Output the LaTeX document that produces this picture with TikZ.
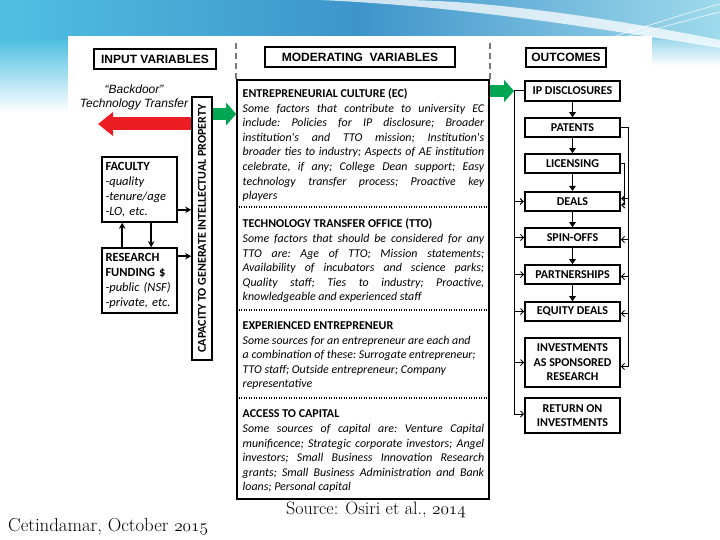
\documentclass[tikz,border=0pt]{standalone}
\usepackage{fontspec}
\usetikzlibrary{arrows.meta,calc}
\newfontfamily\carl{Carlito}
\newfontfamily\arl{Liberation Sans}
\newcommand\osn[1]{{\usefont{OML}{cmm}{m}{it}#1}}
\newcommand\jl[1]{\makebox[241.5pt][s]{#1}}
\newcommand\hd[1]{\textup{\bfseries\fontsize{12}{14.6}\selectfont #1}}
\newcommand\nsp{\spaceskip=0pt\xspaceskip=0pt\frenchspacing}
\definecolor{bgcyan}{RGB}{80,192,226}
\definecolor{bgblue}{RGB}{62,148,202}
\definecolor{bglight}{RGB}{160,218,236}
\definecolor{redarr}{RGB}{236,28,36}
\definecolor{greenarr}{RGB}{0,166,81}
\definecolor{dashgray}{RGB}{120,120,120}
\tikzset{
  hbox/.style={draw, line width=1.4pt, inner sep=0pt, font=\arl\bfseries\fontsize{12}{14}\selectfont},
  ibox/.style={draw, line width=1.6pt, inner sep=3.5pt, text width=68pt, align=left, minimum height=65pt, font=\carl\fontsize{12.5}{15}\selectfont},
  obox/.style={draw, line width=1.6pt, inner sep=1pt, minimum width=95pt, align=center, font=\carl\bfseries\fontsize{12}{14.5}\selectfont},
  sect/.style={inner sep=0pt, text width=241.5pt, align=left, anchor=north west, font=\carl\itshape\fontsize{11.9}{14.6}\selectfont},
  sepline/.style={line width=1.3pt, dash pattern=on 1.2pt off 1.3pt},
  vdash/.style={dashgray, line width=1.5pt, dash pattern=on 6pt off 4pt},
  inarrow/.style={line width=1.5pt, -{Stealth[length=6pt,width=6.5pt]}},
  downarrow/.style={line width=1.6pt, -{Triangle[length=5pt,width=6.5pt]}},
  busarrow/.style={line width=1pt, -{Straight Barb[length=3pt,width=6pt]}},
  redarrow/.style={redarr, line width=13pt, -{Triangle[length=15pt,width=23pt]}},
  greenarrow/.style={greenarr, line width=12pt, -{Triangle[length=10pt,width=22pt]}}
}
\begin{document}
\begin{tikzpicture}[x=1pt,y=-1pt]
\useasboundingbox (0,0) rectangle (720,540);
% background
\fill[white] (0,0) rectangle (720,540);
\shade[left color=bgcyan, right color=bglight, middle color=bgblue] (0,0) rectangle (720,41);
\shade[top color=bgcyan, bottom color=white] (0,40.5) rectangle (68.5,112);
\shade[top color=bglight, bottom color=white] (651.5,40.5) rectangle (720,66);
\fill[white, opacity=0.75] (320,0) .. controls (450,6) and (560,22) .. (720,48) -- (720,40) .. controls (600,16) and (480,0) .. (400,0) -- cycle;
\draw[white, opacity=0.7, line width=0.8pt] (600,41) .. controls (650,25) and (690,12) .. (720,4);
\draw[white, opacity=0.7, line width=0.8pt] (610,41) .. controls (660,28) and (695,18) .. (720,12);
\fill[white] (68,36) rectangle (652,540);

% header boxes
\node[hbox, minimum width=122pt, minimum height=20pt] (hin) at (155,59) {INPUT VARIABLES};
\node[hbox, minimum width=190pt, minimum height=20pt] (hmod) at (360,57) {MODERATING\ \ VARIABLES};
\node[hbox, minimum width=80pt, minimum height=19pt] (hout) at (566,57.5) {OUTCOMES};

% moderating box
\node[draw, line width=1.6pt, minimum width=252pt, minimum height=419pt, inner sep=0pt] (ec) at (363,289.5) {};
\coordinate (dtop) at (0,40);
\draw[vdash] (ec.north west) -- (ec.north west |- dtop);
\draw[vdash] (ec.north east) -- (ec.north east |- dtop);
\coordinate (s1) at (0,207);
\coordinate (s2) at (0,310);
\coordinate (s3) at (0,398);
\draw[sepline] (ec.west |- s1) -- (ec.east |- s1);
\draw[sepline] (ec.west |- s2) -- (ec.east |- s2);
\draw[sepline] (ec.west |- s3) -- (ec.east |- s3);

\node[sect] (ectx) at (242.5,87) {\nsp\strut\hd{ENTREPRENEURIAL CULTURE (EC)}\\
\jl{Some factors that contribute to university EC}\\
\jl{include: Policies for IP disclosure; Broader}\\
\jl{institution's and TTO mission; Institution's}\\
\jl{broader ties to industry; Aspects of AE institution}\\
\jl{celebrate, if any; College Dean support; Easy}\\
\jl{technology transfer process; Proactive key}\\
players};

\node[sect] (ttotx) at (242.5,217.5) {\nsp\strut\hd{TECHNOLOGY TRANSFER OFFICE (TTO)}\\
\jl{Some factors that should be considered for any}\\
\jl{TTO are: Age of TTO; Mission statements;}\\
\jl{Availability of incubators and science parks;}\\
\jl{Quality staff; Ties to industry; Proactive,}\\
knowledgeable and experienced staff};

\node[sect] (exptx) at (242.5,319) {\nsp\strut\hd{EXPERIENCED ENTREPRENEUR}\\
Some sources for an entrepreneur are each and\\
a combination of these: Surrogate entrepreneur;\\
TTO staff; Outside entrepreneur; Company\\
representative};

\node[sect] (acctx) at (242.5,407.5) {\nsp\strut\hd{ACCESS TO CAPITAL}\\
\jl{Some sources of capital are: Venture Capital}\\
\jl{munificence; Strategic corporate investors; Angel}\\
\jl{investors; Small Business Innovation Research}\\
\jl{grants; Small Business Administration and Bank}\\
loans; Personal capital};

% input side
\node[align=center, font=\arl\itshape\fontsize{12}{14}\selectfont] (bd) at (134,97) {“Backdoor”\\Technology Transfer};
\node[draw, line width=1.6pt, minimum width=20pt, minimum height=263pt, inner sep=0pt] (cap) at (202,228.5) {};
\node[rotate=90, inner sep=0pt, font=\carl\bfseries\fontsize{12}{14}\selectfont] (captx) at (cap.center) {CAPACITY TO GENERATE INTELLECTUAL PROPERTY};

\node[ibox] (fac) at (139.5,189.5) {\textbf{FACULTY}\\\textit{-quality}\\\textit{-tenure/age}\\\textit{-LO, etc.}};
\node[ibox] (res) at (139.5,280.5) {\textbf{RESEARCH}\\\textbf{FUNDING \$}\\\textit{-public (NSF)}\\\textit{-private, etc.}};

\draw[inarrow] ([yshift=13pt]fac.south east) -- ([yshift=13pt]fac.south east -| cap.west);
\draw[inarrow] ([yshift=-9pt]res.north east) -- ([yshift=-9pt]res.north east -| cap.west);
\draw[inarrow] ([xshift=21pt]res.north west) -- ([xshift=21pt]fac.south west);
\draw[inarrow] ([xshift=50pt]fac.south west) -- ([xshift=50pt]res.north west);

\coordinate (redtip) at (98,124);
\draw[redarrow] (cap.west |- redtip) -- (redtip);
\coordinate (gl) at (0,114);
\draw[greenarrow] (cap.east |- gl) -- (ec.west |- gl);

% outcomes
\node[obox, minimum height=20pt] (ip) at (572.5,91) {IP DISCLOSURES};
\node[obox, minimum height=19pt] (pat) at (572.5,127.5) {PATENTS};
\node[obox, minimum height=19pt] (lic) at (572.5,163.5) {LICENSING};
\node[obox, minimum height=19pt, line width=2.2pt] (deals) at (572.5,201.5) {DEALS};
\node[obox, minimum height=19pt] (spin) at (572.5,237.5) {SPIN-OFFS};
\node[obox, minimum height=19pt] (part) at (572.5,274.5) {PARTNERSHIPS};
\node[obox, minimum height=19pt] (eq) at (572.5,311.5) {EQUITY DEALS};
\node[obox, minimum height=49pt] (inv) at (572.5,362.5) {INVESTMENTS\\AS SPONSORED\\RESEARCH};
\node[obox, minimum height=35pt] (ret) at (572.5,415.5) {RETURN ON\\INVESTMENTS};

\draw[downarrow] (ip.south) -- (pat.north);
\draw[downarrow] (pat.south) -- (lic.north);
\draw[downarrow] (lic.south) -- (deals.north);
\draw[downarrow] (deals.south) -- (spin.north);
\draw[downarrow] (spin.south) -- (part.north);
\draw[downarrow] (part.south) -- (eq.north);

\coordinate (lbx) at (514,0);
\coordinate (rbx) at (628,0);
\coordinate (rb2) at (624,0);
\draw[busarrow] (ip.west) -- (ip.west -| lbx) |- ([yshift=1.5pt]ret.west);
\foreach \n in {deals,spin,part,eq,inv} {
  \draw[busarrow] (\n.west -| lbx) -- (\n.west);
}
\draw[busarrow] (pat.east) -- (pat.east -| rbx) |- ([yshift=-4pt]inv.east);
\draw[busarrow] ([yshift=3pt]deals.east -| rbx) -- ([yshift=3pt]deals.east);
\draw[busarrow] (lic.east) -- (lic.east -| rb2) |- ([yshift=-3.5pt]deals.east);
\foreach \n in {spin,part,eq} {
  \draw[busarrow] ([yshift=-2pt]\n.east -| rbx) -- ([yshift=-2pt]\n.east);
}
\draw[greenarrow] (ec.east |- ip.west) -- (ip.west -| lbx);

% captions
\node[anchor=base, inner sep=0pt, font=\fontsize{18}{21}\selectfont] (src) at (376,514) {Source: Osiri et al., \osn{2014}};
\node[anchor=base west, inner sep=0pt, font=\fontsize{18.8}{21}\selectfont] (cet) at (8,531) {Cetindamar, October \osn{2015}};
\end{tikzpicture}
\end{document}
